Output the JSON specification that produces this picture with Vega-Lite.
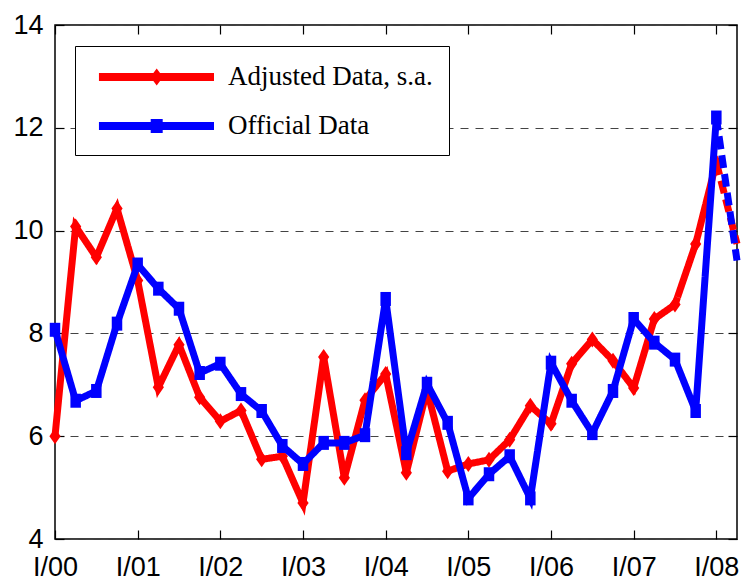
{
  "$schema": "https://vega.github.io/schema/vega-lite/v6.json",
  "width": 682,
  "height": 514,
  "autosize": {"type": "none"},
  "padding": {"left": 55, "top": 25, "right": 5, "bottom": 43},
  "background": "white",
  "config": {
    "view": {"stroke": "black", "strokeWidth": 1.5},
    "axis": {"labelFont": "Liberation Sans", "labelFontSize": 27, "labelColor": "black", "tickColor": "black", "tickWidth": 1.2, "domain": false, "title": null, "labelOverlap": false, "labelFlush": false}
  },
  "datasets": {
    "d": [
      {"series": "Adjusted Data, s.a.", "seg": "main", "t": 2000.00, "v": 6.0},
      {"series": "Adjusted Data, s.a.", "seg": "main", "t": 2000.25, "v": 10.08},
      {"series": "Adjusted Data, s.a.", "seg": "main", "t": 2000.50, "v": 9.48},
      {"series": "Adjusted Data, s.a.", "seg": "main", "t": 2000.75, "v": 10.43},
      {"series": "Adjusted Data, s.a.", "seg": "main", "t": 2001.00, "v": 9.03},
      {"series": "Adjusted Data, s.a.", "seg": "main", "t": 2001.25, "v": 6.95},
      {"series": "Adjusted Data, s.a.", "seg": "main", "t": 2001.50, "v": 7.78},
      {"series": "Adjusted Data, s.a.", "seg": "main", "t": 2001.75, "v": 6.76},
      {"series": "Adjusted Data, s.a.", "seg": "main", "t": 2002.00, "v": 6.29},
      {"series": "Adjusted Data, s.a.", "seg": "main", "t": 2002.25, "v": 6.5},
      {"series": "Adjusted Data, s.a.", "seg": "main", "t": 2002.50, "v": 5.55},
      {"series": "Adjusted Data, s.a.", "seg": "main", "t": 2002.75, "v": 5.61},
      {"series": "Adjusted Data, s.a.", "seg": "main", "t": 2003.00, "v": 4.7},
      {"series": "Adjusted Data, s.a.", "seg": "main", "t": 2003.25, "v": 7.54},
      {"series": "Adjusted Data, s.a.", "seg": "main", "t": 2003.50, "v": 5.19},
      {"series": "Adjusted Data, s.a.", "seg": "main", "t": 2003.75, "v": 6.7},
      {"series": "Adjusted Data, s.a.", "seg": "main", "t": 2004.00, "v": 7.21},
      {"series": "Adjusted Data, s.a.", "seg": "main", "t": 2004.25, "v": 5.29},
      {"series": "Adjusted Data, s.a.", "seg": "main", "t": 2004.50, "v": 6.9},
      {"series": "Adjusted Data, s.a.", "seg": "main", "t": 2004.75, "v": 5.32},
      {"series": "Adjusted Data, s.a.", "seg": "main", "t": 2005.00, "v": 5.46},
      {"series": "Adjusted Data, s.a.", "seg": "main", "t": 2005.25, "v": 5.54},
      {"series": "Adjusted Data, s.a.", "seg": "main", "t": 2005.50, "v": 5.93},
      {"series": "Adjusted Data, s.a.", "seg": "main", "t": 2005.75, "v": 6.59},
      {"series": "Adjusted Data, s.a.", "seg": "main", "t": 2006.00, "v": 6.24},
      {"series": "Adjusted Data, s.a.", "seg": "main", "t": 2006.25, "v": 7.41},
      {"series": "Adjusted Data, s.a.", "seg": "main", "t": 2006.50, "v": 7.88},
      {"series": "Adjusted Data, s.a.", "seg": "main", "t": 2006.75, "v": 7.47},
      {"series": "Adjusted Data, s.a.", "seg": "main", "t": 2007.00, "v": 6.94},
      {"series": "Adjusted Data, s.a.", "seg": "main", "t": 2007.25, "v": 8.28},
      {"series": "Adjusted Data, s.a.", "seg": "main", "t": 2007.50, "v": 8.56},
      {"series": "Adjusted Data, s.a.", "seg": "main", "t": 2007.75, "v": 9.74},
      {"series": "Adjusted Data, s.a.", "seg": "main", "t": 2008.00, "v": 11.33},
      {"series": "Adjusted Data, s.a.", "seg": "proj", "t": 2008.00, "v": 11.33},
      {"series": "Adjusted Data, s.a.", "seg": "proj", "t": 2008.25, "v": 9.74},
      {"series": "Official Data", "seg": "main", "t": 2000.00, "v": 8.07},
      {"series": "Official Data", "seg": "main", "t": 2000.25, "v": 6.69},
      {"series": "Official Data", "seg": "main", "t": 2000.50, "v": 6.88},
      {"series": "Official Data", "seg": "main", "t": 2000.75, "v": 8.19},
      {"series": "Official Data", "seg": "main", "t": 2001.00, "v": 9.34},
      {"series": "Official Data", "seg": "main", "t": 2001.25, "v": 8.87},
      {"series": "Official Data", "seg": "main", "t": 2001.50, "v": 8.48},
      {"series": "Official Data", "seg": "main", "t": 2001.75, "v": 7.23},
      {"series": "Official Data", "seg": "main", "t": 2002.00, "v": 7.41},
      {"series": "Official Data", "seg": "main", "t": 2002.25, "v": 6.82},
      {"series": "Official Data", "seg": "main", "t": 2002.50, "v": 6.49},
      {"series": "Official Data", "seg": "main", "t": 2002.75, "v": 5.81},
      {"series": "Official Data", "seg": "main", "t": 2003.00, "v": 5.46},
      {"series": "Official Data", "seg": "main", "t": 2003.25, "v": 5.87},
      {"series": "Official Data", "seg": "main", "t": 2003.50, "v": 5.87},
      {"series": "Official Data", "seg": "main", "t": 2003.75, "v": 6.02},
      {"series": "Official Data", "seg": "main", "t": 2004.00, "v": 8.67},
      {"series": "Official Data", "seg": "main", "t": 2004.25, "v": 5.67},
      {"series": "Official Data", "seg": "main", "t": 2004.50, "v": 7.02},
      {"series": "Official Data", "seg": "main", "t": 2004.75, "v": 6.26},
      {"series": "Official Data", "seg": "main", "t": 2005.00, "v": 4.79},
      {"series": "Official Data", "seg": "main", "t": 2005.25, "v": 5.26},
      {"series": "Official Data", "seg": "main", "t": 2005.50, "v": 5.61},
      {"series": "Official Data", "seg": "main", "t": 2005.75, "v": 4.79},
      {"series": "Official Data", "seg": "main", "t": 2006.00, "v": 7.43},
      {"series": "Official Data", "seg": "main", "t": 2006.25, "v": 6.69},
      {"series": "Official Data", "seg": "main", "t": 2006.50, "v": 6.06},
      {"series": "Official Data", "seg": "main", "t": 2006.75, "v": 6.88},
      {"series": "Official Data", "seg": "main", "t": 2007.00, "v": 8.28},
      {"series": "Official Data", "seg": "main", "t": 2007.25, "v": 7.82},
      {"series": "Official Data", "seg": "main", "t": 2007.50, "v": 7.49},
      {"series": "Official Data", "seg": "main", "t": 2007.75, "v": 6.49},
      {"series": "Official Data", "seg": "main", "t": 2008.00, "v": 12.2},
      {"series": "Official Data", "seg": "proj", "t": 2008.00, "v": 12.2},
      {"series": "Official Data", "seg": "proj", "t": 2008.25, "v": 9.42}
    ]
  },
  "layer": [
    {
      "data": {"name": "d"},
      "transform": [{"filter": "datum.series === 'Adjusted Data, s.a.'"}],
      "mark": {"type": "line", "color": "#ff0000", "strokeWidth": 7},
      "encoding": {
        "x": {"field": "t", "type": "quantitative", "scale": {"domain": [2000, 2008.25], "nice": false, "zero": false},
              "axis": {"orient": "bottom", "values": [2000, 2001, 2002, 2003, 2004, 2005, 2006, 2007, 2008], "labelExpr": "'I/' + substring(toString(datum.value), 2, 4)", "tickSize": -9, "labelPadding": 24, "grid": false}},
        "y": {"field": "v", "type": "quantitative", "scale": {"domain": [4, 14], "nice": false, "zero": false},
              "axis": {"orient": "left", "values": [4, 6, 8, 10, 12, 14], "tickSize": -9, "labelPadding": 21, "grid": true, "gridDash": [8, 7], "gridColor": "#444444", "gridWidth": 1}},
        "detail": {"field": "seg", "type": "nominal"},
        "strokeDash": {"field": "seg", "type": "nominal", "scale": {"domain": ["main", "proj"], "range": [[1, 0], [13, 6]]}, "legend": null}
      }
    },
    {
      "data": {"name": "d"},
      "transform": [{"filter": "datum.series === 'Adjusted Data, s.a.' && datum.seg === 'main'"}],
      "mark": {"type": "point", "filled": true, "opacity": 1, "color": "#ff0000", "shape": "M0,-1L0.7,0L0,1L-0.7,0Z", "size": 256},
      "encoding": {
        "x": {"field": "t", "type": "quantitative", "axis": null},
        "y": {"field": "v", "type": "quantitative", "axis": null}
      }
    },
    {
      "data": {"name": "d"},
      "transform": [{"filter": "datum.series === 'Official Data'"}],
      "mark": {"type": "line", "color": "#0000ff", "strokeWidth": 7},
      "encoding": {
        "x": {"field": "t", "type": "quantitative",
              "axis": {"orient": "top", "values": [2000, 2001, 2002, 2003, 2004, 2005, 2006, 2007, 2008], "labels": false, "tickSize": -9, "grid": false}},
        "y": {"field": "v", "type": "quantitative",
              "axis": {"orient": "right", "values": [4, 6, 8, 10, 12, 14], "labels": false, "tickSize": -9, "grid": false}},
        "detail": {"field": "seg", "type": "nominal"},
        "strokeDash": {"field": "seg", "type": "nominal", "legend": null}
      }
    },
    {
      "data": {"name": "d"},
      "transform": [{"filter": "datum.series === 'Official Data' && datum.seg === 'main'"}],
      "mark": {"type": "point", "filled": true, "opacity": 1, "color": "#0000ff", "shape": "M-0.75,-1H0.75V1H-0.75Z", "size": 196},
      "encoding": {
        "x": {"field": "t", "type": "quantitative", "axis": null},
        "y": {"field": "v", "type": "quantitative", "axis": null}
      }
    },
    {
      "data": {"values": []},
      "mark": {"type": "point", "filled": true, "opacity": 1, "size": 900},
      "encoding": {
        "color": {"field": "series", "type": "nominal",
                  "scale": {"domain": ["Adjusted Data, s.a.", "Official Data"], "range": ["#ff0000", "#0000ff"]},
                  "legend": {"orient": "none", "legendX": 20, "legendY": 21, "title": null, "padding": 16, "rowPadding": 21,
                             "strokeColor": "black", "fillColor": "white", "labelFont": "Liberation Serif", "labelFontSize": 27,
                             "labelColor": "black", "labelOffset": 107, "labelLimit": 500, "symbolSize": 900, "symbolStrokeWidth": 0, "symbolOpacity": 1}},
        "shape": {"field": "series", "type": "nominal",
                  "scale": {"domain": ["Adjusted Data, s.a.", "Official Data"],
                            "range": ["M-0.47,-0.27H7.2V0.27H-0.47Z M3.38,-0.56L3.8,0L3.38,0.56L2.96,0Z", "M-0.47,-0.27H7.2V0.27H-0.47Z M2.98,-0.47H3.78V0.47H2.98Z"]},
                  "legend": {"orient": "none", "legendX": 20, "legendY": 21, "title": null, "padding": 16, "rowPadding": 21,
                             "strokeColor": "black", "fillColor": "white", "labelFont": "Liberation Serif", "labelFontSize": 27,
                             "labelColor": "black", "labelOffset": 107, "labelLimit": 500, "symbolSize": 900, "symbolStrokeWidth": 0, "symbolOpacity": 1}}
      }
    }
  ],
  "resolve": {"axis": {"x": "independent", "y": "independent"}}
}
